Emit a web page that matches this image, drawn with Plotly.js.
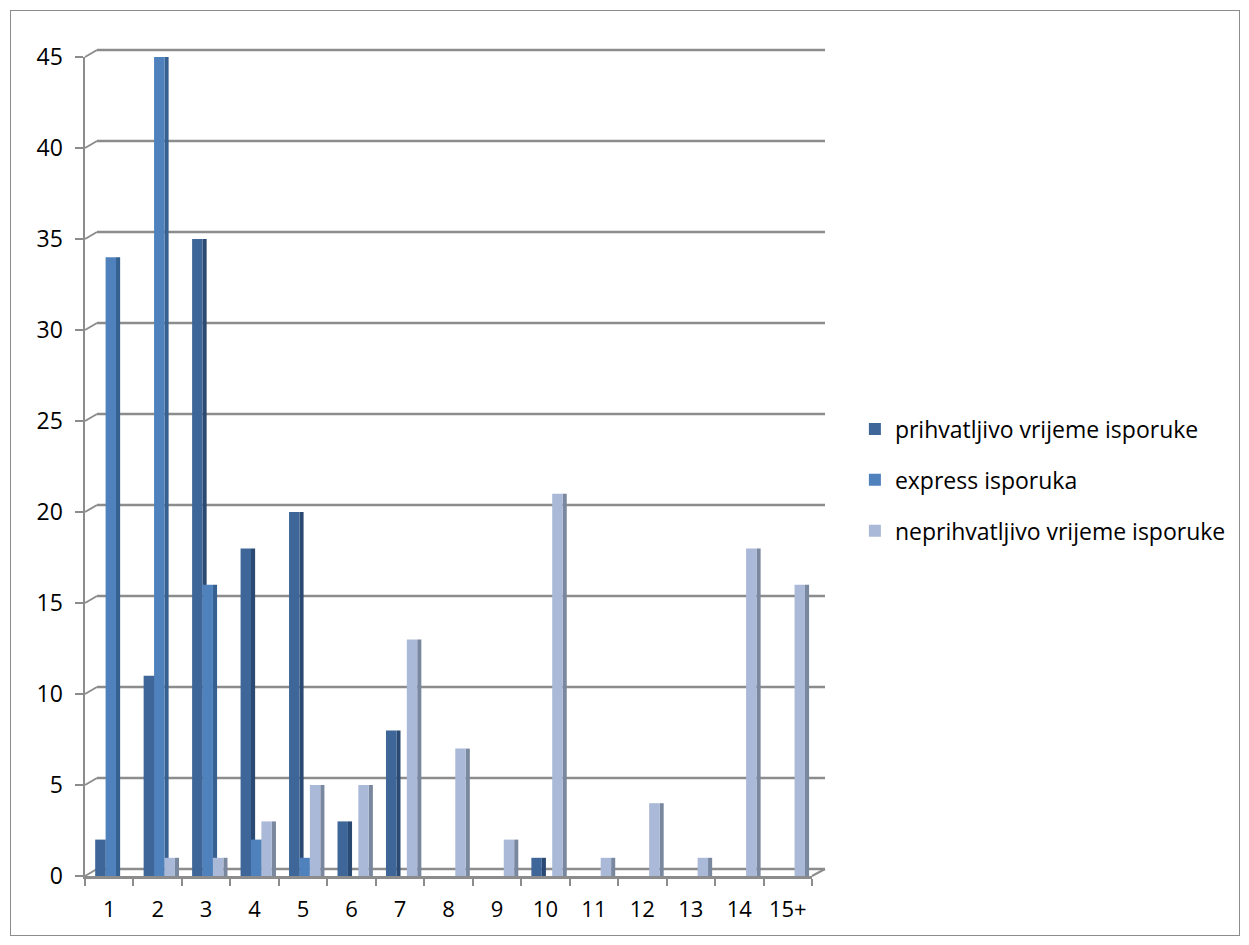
<!DOCTYPE html>
<html>
<head>
<meta charset="utf-8">
<script src="https://cdn.plot.ly/plotly-3.0.1.min.js"></script>
<style>
  html, body { margin: 0; padding: 0; background: #fff; }
  #chart { width: 1249px; height: 945px; position: relative; }
  #frame { position: absolute; left: 10px; top: 10px; width: 1228px; height: 924px; border: 1px solid #8c8c8c; pointer-events: none; }
</style>
</head>
<body>
<div id="chart"></div>
<div id="frame"></div>
<script>
const categories = ["1","2","3","4","5","6","7","8","9","10","11","12","13","14","15+"];
const acceptable = [2, 11, 35, 18, 20, 3, 8, 0, 0, 1, 0, 0, 0, 0, 0];
const express = [34, 45, 16, 2, 1, 0, 0, 0, 0, 0, 0, 0, 0, 0, 0];
const unacceptable = [0, 1, 1, 3, 5, 5, 13, 7, 2, 21, 1, 4, 1, 18, 16];
const seriesNames = ["prihvatljivo vrijeme isporuke", "express isporuka", "neprihvatljivo vrijeme isporuke"];
const yTicks = [0, 5, 10, 15, 20, 25, 30, 35, 40, 45];
const yMax = 45;

const series = [acceptable, express, unacceptable];
const frontColors = ["#3E6698", "#4F81BD", "#AAB9D7"];
const sideColors = ["#2B4A73", "#36608F", "#7A889F"];
const frontWidth = 0.215;
const sideWidth = 0.085;
const frontOffsets = [-0.29, -0.075, 0.14];

// side faces (drawn first, so neighbouring front faces cover them)
const sides = series.map((vals, i) => ({
  type: "bar",
  x: categories,
  y: vals,
  legendgroup: "g" + i,
  showlegend: false,
  width: sideWidth,
  offset: frontOffsets[i] + frontWidth,
  marker: { color: sideColors[i], line: { width: 0 } },
  hoverinfo: "skip"
}));

const fronts = series.map((vals, i) => ({
  type: "bar",
  name: seriesNames[i],
  legendgroup: "g" + i,
  x: categories,
  y: vals,
  width: frontWidth,
  offset: frontOffsets[i],
  marker: { color: frontColors[i], line: { width: 0 } },
  hoverinfo: "x+y+name"
}));

const gridColor = "#8c8c8c";
const shapes = [];
yTicks.forEach(v => {
  const yp = v / yMax;
  // back-wall gridline (3-D look: shifted right/up from the front axis)
  shapes.push({
    type: "line", xref: "paper", yref: "paper",
    xsizemode: "pixel", xanchor: 0, ysizemode: "pixel", yanchor: yp,
    x0: 12, x1: 740, y0: 7, y1: 7,
    line: { color: gridColor, width: 2.5 }, layer: "below"
  });
  // small diagonal connecting tick to back wall
  shapes.push({
    type: "line", xref: "paper", yref: "paper",
    xsizemode: "pixel", xanchor: 0, ysizemode: "pixel", yanchor: yp,
    x0: 0, x1: 12, y0: 0, y1: 7,
    line: { color: gridColor, width: 2 }, layer: "below"
  });
});
// diagonal at right end of the floor
shapes.push({
  type: "line", xref: "paper", yref: "paper",
  xsizemode: "pixel", xanchor: 1, ysizemode: "pixel", yanchor: 0,
  x0: 0, x1: 13, y0: 0, y1: 7,
  line: { color: gridColor, width: 2 }, layer: "below"
});

const layout = {
  width: 1249,
  height: 945,
  margin: { l: 85, r: 437, t: 57, b: 69 },
  paper_bgcolor: "#ffffff",
  plot_bgcolor: "rgba(0,0,0,0)",
  font: { family: "'Open Sans', Lato, sans-serif", size: 23, color: "#000000" },
  barmode: "overlay",
  showlegend: true,
  shapes: shapes,
  legend: {
    x: 1.059, xanchor: "left",
    y: 0.4835, yanchor: "middle",
    font: { size: 23, color: "#000" },
    traceorder: "grouped",
    tracegroupgap: 18
  },
  xaxis: {
    type: "category",
    tickson: "boundaries",
    tickangle: 0,
    ticks: "outside",
    ticklen: 7,
    tickcolor: gridColor,
    tickwidth: 2,
    ticklabelstandoff: 12,
    showline: true,
    linecolor: gridColor,
    linewidth: 2.5,
    showgrid: false,
    tickfont: { size: 22 },
    fixedrange: true
  },
  yaxis: {
    range: [0, yMax],
    tickvals: yTicks,
    ticks: "outside",
    ticklen: 8,
    tickcolor: gridColor,
    tickwidth: 2,
    ticklabelstandoff: 7,
    showline: true,
    linecolor: gridColor,
    linewidth: 2.5,
    showgrid: false,
    zeroline: false,
    tickfont: { size: 23 },
    fixedrange: true
  }
};

Plotly.newPlot("chart", sides.concat(fronts), layout, { displayModeBar: false, staticPlot: true });
</script>
</body>
</html>
